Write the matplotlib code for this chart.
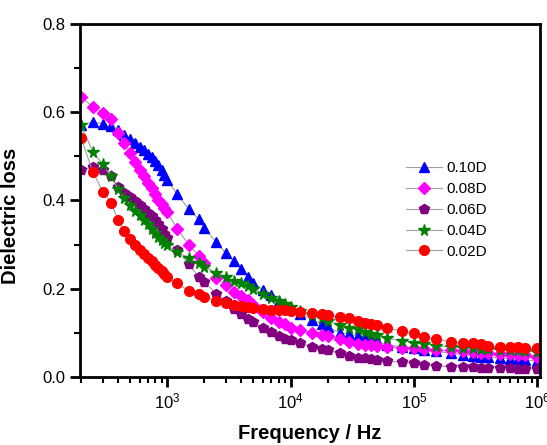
import matplotlib
matplotlib.use("Agg")
import matplotlib.pyplot as plt
from matplotlib.ticker import LogLocator, MultipleLocator, NullFormatter

plt.rcParams['font.family'] = ['Liberation Sans', 'DejaVu Sans']

# --- Données ---
freq = [200, 250, 300, 350, 400, 450, 500, 550, 600, 650, 700, 750, 800, 850,
        900, 950, 1000, 1200, 1500, 1800, 2000, 2500, 3000, 3500, 4000, 4500,
        5000, 6000, 7000, 8000, 9000, 10000, 12000, 15000, 18000, 20000, 25000,
        30000, 35000, 40000, 45000, 50000, 60000, 80000, 100000, 120000, 150000,
        200000, 250000, 300000, 350000, 400000, 500000, 600000, 700000, 800000,
        1000000]

perte_010 = [0.571, 0.578, 0.574, 0.568, 0.560, 0.549, 0.540, 0.530, 0.522, 0.514,
             0.506, 0.498, 0.490, 0.480, 0.468, 0.458, 0.447, 0.415, 0.380, 0.358,
             0.338, 0.305, 0.280, 0.262, 0.245, 0.226, 0.213, 0.197, 0.186, 0.172,
             0.164, 0.156, 0.143, 0.130, 0.119, 0.113, 0.100, 0.097, 0.093, 0.090,
             0.087, 0.082, 0.073, 0.068, 0.066, 0.061, 0.058, 0.054, 0.050, 0.048,
             0.046, 0.045, 0.043, 0.041, 0.040, 0.039, 0.035]

perte_008 = [0.635, 0.612, 0.598, 0.584, 0.552, 0.530, 0.508, 0.488, 0.470, 0.455,
             0.440, 0.428, 0.414, 0.402, 0.392, 0.383, 0.374, 0.336, 0.300, 0.275,
             0.258, 0.225, 0.208, 0.192, 0.183, 0.174, 0.163, 0.147, 0.134, 0.124,
             0.119, 0.112, 0.106, 0.099, 0.095, 0.092, 0.085, 0.079, 0.075, 0.073,
             0.072, 0.070, 0.068, 0.066, 0.065, 0.063, 0.061, 0.060, 0.058, 0.056,
             0.055, 0.054, 0.053, 0.051, 0.050, 0.049, 0.045]

perte_006 = [0.469, 0.476, 0.469, 0.455, 0.431, 0.418, 0.408, 0.398, 0.390, 0.381,
             0.372, 0.364, 0.356, 0.346, 0.336, 0.325, 0.315, 0.288, 0.255, 0.227,
             0.215, 0.189, 0.172, 0.155, 0.143, 0.131, 0.124, 0.112, 0.102, 0.093,
             0.087, 0.083, 0.076, 0.068, 0.064, 0.060, 0.054, 0.047, 0.044, 0.042,
             0.040, 0.039, 0.036, 0.033, 0.031, 0.027, 0.025, 0.023, 0.022, 0.022,
             0.021, 0.021, 0.020, 0.020, 0.019, 0.019, 0.018]

perte_004 = [0.571, 0.510, 0.483, 0.455, 0.425, 0.405, 0.390, 0.377, 0.366, 0.356,
             0.346, 0.336, 0.327, 0.318, 0.310, 0.304, 0.299, 0.283, 0.270, 0.258,
             0.250, 0.236, 0.226, 0.218, 0.212, 0.205, 0.200, 0.188, 0.178, 0.171,
             0.165, 0.158, 0.149, 0.141, 0.134, 0.127, 0.118, 0.112, 0.108, 0.102,
             0.098, 0.094, 0.088, 0.082, 0.078, 0.075, 0.071, 0.068, 0.066, 0.065,
             0.064, 0.063, 0.062, 0.061, 0.060, 0.059, 0.057]

perte_002 = [0.542, 0.465, 0.420, 0.395, 0.356, 0.330, 0.312, 0.299, 0.288, 0.278,
             0.270, 0.262, 0.254, 0.247, 0.240, 0.233, 0.227, 0.212, 0.195, 0.187,
             0.182, 0.173, 0.168, 0.163, 0.161, 0.159, 0.156, 0.154, 0.152, 0.152,
             0.151, 0.150, 0.147, 0.144, 0.142, 0.141, 0.136, 0.134, 0.126, 0.123,
             0.120, 0.117, 0.111, 0.104, 0.100, 0.091, 0.087, 0.079, 0.077, 0.076,
             0.074, 0.070, 0.068, 0.067, 0.067, 0.066, 0.065]

etiquettes = ["0.10D", "0.08D", "0.06D", "0.04D", "0.02D"]

# --- Figure ---
fig = plt.figure(figsize=(5.47, 4.45), dpi=100)
ax = fig.add_axes([0.146, 0.153, 0.841, 0.793])

series = [
    (perte_010, "^", "#0000ff", 7),
    (perte_008, "D", "#ff00ff", 6),
    (perte_006, "p", "#800080", 7.5),
    (perte_004, "*", "#008000", 8.5),
    (perte_002, "o", "#ff0000", 7),
]

for (valeurs, marqueur, couleur, taille), nom in zip(series, etiquettes):
    ax.plot(freq, valeurs, color="#a0a0a0", linewidth=0.8, marker=marqueur,
            markersize=taille, markerfacecolor=couleur, markeredgecolor=couleur,
            label=nom)

ax.set_xscale("log")
ax.set_xlim(196, 1.05e6)
ax.set_ylim(0.0, 0.8)

ax.yaxis.set_minor_locator(MultipleLocator(0.1))
ax.set_yticks([0.0, 0.2, 0.4, 0.6, 0.8])
ax.set_yticklabels(["0.0", "0.2", "0.4", "0.6", "0.8"])
ax.xaxis.set_major_locator(LogLocator(base=10, numticks=10))
ax.xaxis.set_minor_locator(LogLocator(base=10, subs=range(2, 10), numticks=20))
ax.xaxis.set_minor_formatter(NullFormatter())

for cote in ax.spines.values():
    cote.set_linewidth(2)

ax.tick_params(which="major", direction="out", length=7, width=2,
               labelsize=12, top=False, right=False)
ax.tick_params(which="minor", direction="out", length=4, width=1.5,
               top=False, right=False)

ax.set_xlabel("Frequency / Hz", fontsize=14.5, fontweight="bold")
ax.set_ylabel("Dielectric loss", fontsize=14.5, fontweight="bold")
ax.xaxis.set_label_coords(0.5, -0.134)
ax.yaxis.set_label_coords(-0.13, 0.456)

ax.legend(loc="upper left", bbox_to_anchor=(0.68, 0.65), frameon=False,
          fontsize=11, handlelength=2.3, handletextpad=0.3, labelspacing=0.45)

fig.savefig("out.png", dpi=100)
